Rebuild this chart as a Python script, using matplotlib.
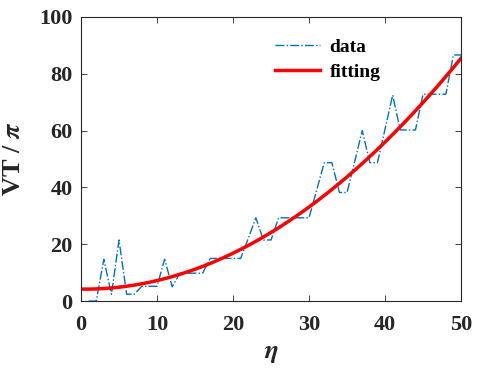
import numpy as np
import matplotlib.pyplot as plt
import matplotlib as mpl

mpl.rcParams['font.family'] = 'Liberation Serif'
mpl.rcParams['font.weight'] = 'bold'
mpl.rcParams['mathtext.fontset'] = 'stix'

# data
eta = list(range(1, 51))
vt = [0, 0, 14.7, 2.4, 21.5, 2.4, 2.4, 5.2, 5.2, 5.2,
      14.7, 5.0, 9.8, 9.8, 9.8, 9.8, 15.0, 15.0, 15.0, 15.0,
      15.0, 22.0, 29.3, 21.5, 21.5, 29.3, 29.3, 29.3, 29.3, 29.3,
      39.0, 48.7, 48.7, 38.2, 38.2, 49.0, 60.0, 48.7, 48.7, 60.5,
      72.5, 60.2, 60.2, 60.2, 72.8, 72.8, 72.8, 72.8, 86.6, 86.6]

# fitted curve (quadratic, coefficients)
fit_coef = [0.0331, -0.03, 4.2]

xs = np.linspace(0, 50, 200)
fit = np.polyval(fit_coef, xs)

fig = plt.figure(figsize=(4.91, 3.84), dpi=100)
ax = fig.add_axes([0.165, 0.216, 0.774, 0.740])

blue = (0, 0.447, 0.741)
ax.plot(eta, vt, '-.', color=blue, lw=1.0, label='data')
ax.plot(xs, fit, '-', color='red', lw=2.5, label='fitting')

ax.set_xlim(0, 50)
ax.set_ylim(0, 100)
ax.set_xticks([0, 10, 20, 30, 40, 50])
ax.set_yticks([0, 20, 40, 60, 80, 100])

for s in ax.spines.values():
    s.set_color('0.15')
    s.set_linewidth(0.8)
ax.tick_params(direction='in', top=True, right=True, length=4, width=0.6,
               color='0.15', labelsize=16, labelcolor='0.15', pad=6)
ax.tick_params(axis='x', pad=10)

ax.set_xlabel(r'$\eta$', fontsize=19, color='0.15', labelpad=6)
ax.set_ylabel(r'VT / $\pi$', fontsize=19, color='0.15', fontweight='bold', labelpad=10)

ax.legend(loc='upper left', bbox_to_anchor=(0.465, 0.985), frameon=False,
          fontsize=14, handlelength=2.3, handletextpad=0.5, labelspacing=0.35)

fig.savefig('out.png', dpi=100)
